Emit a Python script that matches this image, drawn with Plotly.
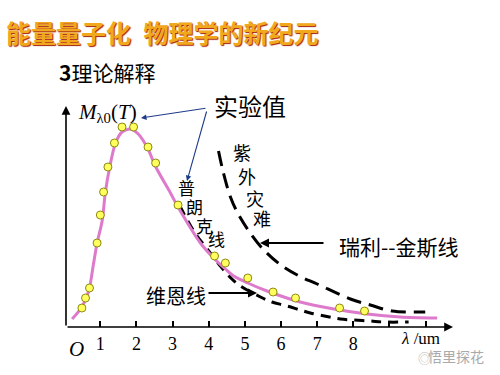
import plotly.graph_objects as go

# ---------------- data (wavelength in um, radiance in arbitrary units) ----------------
planck_x = [0.22, 0.49, 0.68, 0.81, 0.91, 1.05, 1.14, 1.26, 1.42, 1.6, 1.83, 2.05, 2.32, 2.52,
            2.94, 3.15, 3.77, 4.16, 4.46, 4.69, 5.08, 5.61, 6.53, 7.46, 8.38, 9.30, 10.32]
planck_y = [8, 20, 36, 63, 84, 106, 135, 160, 184, 195, 198, 193, 178, 161,
            134, 120, 84, 68, 58, 51, 44, 36, 25, 18, 13, 10, 9]

exp_x = [0.49, 0.59, 0.70, 0.91, 1.0, 1.09, 1.21, 1.39, 1.60, 1.92, 2.32, 2.53, 3.15,
         4.16, 4.46, 5.08, 5.78, 6.40, 7.62, 8.31]
exp_y = [19, 29, 39, 84, 112, 135, 160, 184, 200, 200, 180, 164, 122,
         71, 64, 49, 35, 29, 19, 16]

rj_x = [4.27, 4.40, 4.60, 4.80, 5.09, 5.50, 6.03, 6.5, 7.0, 7.92, 8.47, 9.07, 9.99]
rj_y = [176, 155, 130, 114, 97, 78, 61, 51, 43, 28, 22, 16, 15]

wien_x = [3.2, 3.6, 4.0, 4.32, 4.64, 4.88, 5.43, 5.75, 6.12, 6.53, 6.81, 7.27, 7.64, 8.0, 8.47, 8.84, 9.53]
wien_y = [121, 95, 76, 61, 48, 41, 30, 25, 21.5, 17, 14, 10.5, 8, 7, 6, 5, 5]

tick_vals = [1, 2, 3, 4, 5, 6, 7, 8, 9, 10]
tick_text = ["1", "2", "3", "4", "5", "6", "7", "8", "", ""]

title_text = "能量量子化\u2002物理学的新纪元"
subtitle_text = "<b>3</b>理论解释"

# ---------------- layout geometry ----------------
W, H = 500, 375
L, R, T, B = 66, 48, 108, 48
PW, PH = W - L - R, H - T - B
X_RANGE = [0.05, 0.05 + PW / 36.14]
Y_RANGE = [0, PH]


def P(px, py):
    """pixel -> paper coordinates"""
    return (px - L) / PW, (H - B - py) / PH


CJK = "Noto Sans CJK SC"
SERIF = "Liberation Serif"

fig = go.Figure()

fig.add_trace(go.Scatter(x=wien_x, y=wien_y, mode="lines", line=dict(color="black", width=3, dash="10px,7px", shape="spline"),
                         hoverinfo="skip", showlegend=False))
fig.add_trace(go.Scatter(x=rj_x, y=rj_y, mode="lines", line=dict(color="black", width=3, dash="15px,8px", shape="spline"),
                         hoverinfo="skip", showlegend=False))
fig.add_trace(go.Scatter(x=planck_x, y=planck_y, mode="lines", line=dict(color="#DE7ACB", width=3, shape="spline", smoothing=0.8),
                         hoverinfo="skip", showlegend=False))
fig.add_trace(go.Scatter(x=exp_x, y=exp_y, mode="markers",
                         marker=dict(size=8, color="#FFFF5E", line=dict(color="#8C8A10", width=1)),
                         hoverinfo="skip", showlegend=False, cliponaxis=False))

ann = []


def text(px, py, s, size, color="black", family=CJK, **kw):
    x, y = P(px, py)
    ann.append(dict(x=x, y=y, xref="paper", yref="paper", text=s, showarrow=False,
                    font=dict(size=size, color=color, family=family, **kw.pop("font", {})),
                    xanchor=kw.pop("xanchor", "center"), yanchor=kw.pop("yanchor", "middle"), **kw))


def arrow(px0, py0, px1, py1, color="black", width=1.5, head=2, size=1.0):
    x, y = P(px1, py1)
    ann.append(dict(x=x, y=y, xref="paper", yref="paper", text="", showarrow=True,
                    ax=px0 - px1, ay=py0 - py1, axref="pixel", ayref="pixel",
                    arrowhead=head, arrowsize=size, arrowwidth=width, arrowcolor=color,
                    standoff=0, startstandoff=0))


# axes with arrows
arrow(66, 327, 66, 106, width=1.6, head=2, size=1.1)
arrow(66, 327, 453, 327, width=1.6, head=2, size=1.1)

# title and subtitle
text(162, 32, title_text, 25, color="#F2A81D", font=dict(weight="bold", shadow="1px 1px 1px #A3200A"))
text(107, 72, subtitle_text, 21)

# axis labels
text(76, 113, "<i>M</i><sub>λ0</sub>(<i>T</i>)", 21, family=SERIF, xanchor="left")
text(76, 349, "<i>O</i>", 21, family=SERIF)
text(420, 338, "<i>λ</i> /um", 17, family=SERIF)

# experimental values label + arrows
text(250, 106, "实验值", 24)
arrow(207, 108, 141, 118, color="#1F3C88", width=1.1, head=2, size=1.0)
arrow(207, 110, 187, 181, color="#1F3C88", width=1.1, head=2, size=1.0)

# ultraviolet catastrophe (vertical)
for (px, py, ch) in [(242, 152, "紫"), (247, 176, "外"), (255, 198, "灾"), (262, 218, "难")]:
    text(px, py, ch, 18)

# Planck line label
for (px, py, ch) in [(186, 187, "普"), (194, 206, "朗"), (204, 225, "克"), (216, 238, "线")]:
    text(px, py, ch, 17)

# Rayleigh-Jeans
text(399, 246, "瑞利--金斯线", 21)
arrow(325, 243, 260, 243, width=2, head=2, size=0.9)

# Wien
text(176, 295, "维恩线", 20)
arrow(207, 293, 257, 293, width=2, head=2, size=0.9)

# watermark
text(486, 356, "悟里探花", 14, color="#AAAAAA", xanchor="right")
text(424, 357, "◎", 13, color="#BBBBBB")

fig.update_layout(
    width=W, height=H, autosize=False,
    margin=dict(l=L, r=R, t=T, b=B),
    paper_bgcolor="white", plot_bgcolor="white",
    annotations=ann,
    xaxis=dict(range=X_RANGE, showgrid=False, zeroline=False, showline=False,
               tickmode="array", tickvals=tick_vals, ticktext=tick_text,
               ticks="inside", ticklen=6, tickwidth=1.5, tickcolor="black",
               tickfont=dict(family=SERIF, size=18, color="black"), ticklabelstandoff=4),
    yaxis=dict(range=Y_RANGE, showgrid=False, zeroline=False, showline=False,
               showticklabels=False, ticks=""),
)

fig.write_html("out.html", config={"displayModeBar": False},
               post_script="document.body.style.margin='0';document.body.style.padding='0';")
